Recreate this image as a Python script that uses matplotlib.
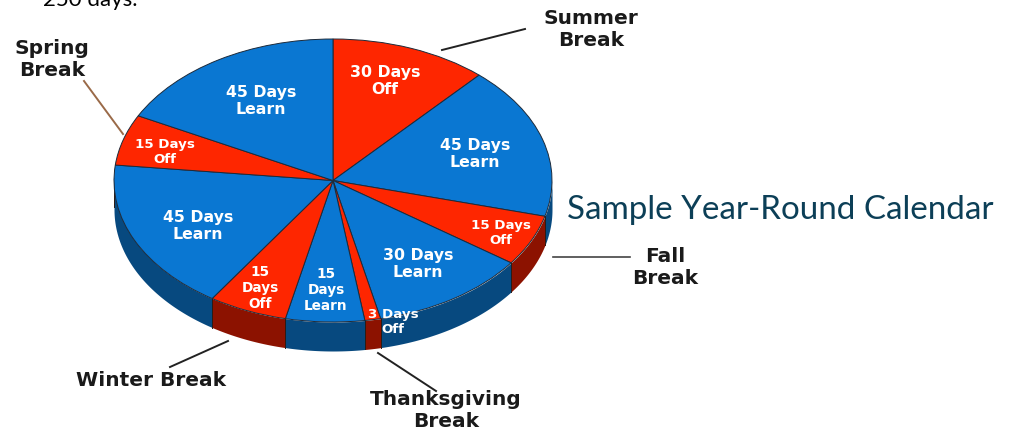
import matplotlib
matplotlib.use('Agg')
import matplotlib.pyplot as plt
import numpy as np

W, H = 1010, 431

# clockwise from 12 o'clock
days = [30, 45, 15, 30, 3, 15, 15, 45, 15, 45]
kinds = ['off', 'learn', 'off', 'learn', 'off', 'learn', 'off', 'learn', 'off', 'learn']
slice_labels = ['30 Days\nOff', '45 Days\nLearn', '15 Days\nOff', '30 Days\nLearn', '3 Days\nOff',
                '15\nDays\nLearn', '15\nDays\nOff', '45 Days\nLearn', '15 Days\nOff', '45 Days\nLearn']
break_labels = ['Summer\nBreak', 'Spring\nBreak', 'Fall\nBreak', 'Winter Break', 'Thanksgiving\nBreak']
title = 'Sample Year-Round Calendar'
cut_text = '250 days.'

top_colors = {'off': '#fe2600', 'learn': '#0a77d2'}
side_colors = {'off': '#8c1200', 'learn': '#07497f'}

fig = plt.figure(figsize=(W / 100, H / 100), dpi=100)

# the pie axes sits on the ellipse of the top face, aspect is left free to squash it
left, right, top, bottom = 114, 552, 40, 323
ax = fig.add_axes([left / W, 1 - bottom / H, (right - left) / W, (bottom - top) / H])
depth = 29 / ((bottom - top) / 2)

# side of the disc
edges = 90 - np.cumsum([0] + days) / sum(days) * 360
for i, kind in enumerate(kinds):
    a = np.radians(np.linspace(edges[i], edges[i + 1], 60))
    a = a[np.sin(a) <= 0.02]
    if len(a) == 0:
        continue
    xs = np.cos(a)
    ys = np.sin(a)
    ax.fill_between(xs, ys, ys - depth, color=side_colors[kind], lw=0, clip_on=False, zorder=1)
    ax.plot([xs[-1], xs[-1]], [ys[-1], ys[-1] - depth], color='#2a1a14', lw=0.7, clip_on=False, zorder=2)

wedges, _ = ax.pie(days, colors=[top_colors[k] for k in kinds], startangle=90, counterclock=False,
                   radius=1, wedgeprops={'edgecolor': '#1c2a3a', 'linewidth': 0.7, 'zorder': 3})
ax.set_aspect('auto')
ax.set_xlim(-1, 1)
ax.set_ylim(-1, 1)
ax.axis('off')

# pixel coordinate overlay for labels and leader lines
ov = fig.add_axes([0, 0, 1, 1])
ov.set_xlim(0, W)
ov.set_ylim(H, 0)
ov.axis('off')
ov.patch.set_alpha(0)

slice_pos = [(385, 81), (475, 154), (501, 233), (418, 264), (393, 322),
             (326, 290), (260, 288), (198, 226), (165, 152), (261, 101)]
slice_size = [11.3, 11.3, 9.6, 11.3, 9.6, 9.8, 9.8, 11.3, 9.6, 11.3]
for label, (x, y), fs in zip(slice_labels, slice_pos, slice_size):
    ov.text(x, y, label, color='white', fontsize=fs, fontweight='bold', ha='center', va='center',
            family='DejaVu Sans', linespacing=1.2)

break_pos = [(591, 30), (52, 60), (665, 268), (151, 381), (446, 411)]
for label, (x, y) in zip(break_labels, break_pos):
    ov.text(x, y, label, color='#1a1a1a', fontsize=14.5, fontweight='bold', ha='center', va='center',
            family='DejaVu Sans', linespacing=1.2)

ov.plot([442, 525], [51, 30], color='#222222', lw=1.4)
ov.plot([84, 123], [82, 135], color='#9a6a48', lw=1.4)
ov.plot([553, 630], [258, 258], color='#444444', lw=1.2)
ov.plot([170, 228], [368, 342], color='#222222', lw=1.4)
ov.plot([378, 436], [354, 392], color='#222222', lw=1.4)

ov.text(567, 210, title, color='#0c3f57', fontsize=23.9, family='Lato', ha='left', va='center')
ov.text(43, 0, cut_text, color='black', fontsize=16, family='Lato', ha='left', va='center')

fig.savefig('out.png', dpi=100)
